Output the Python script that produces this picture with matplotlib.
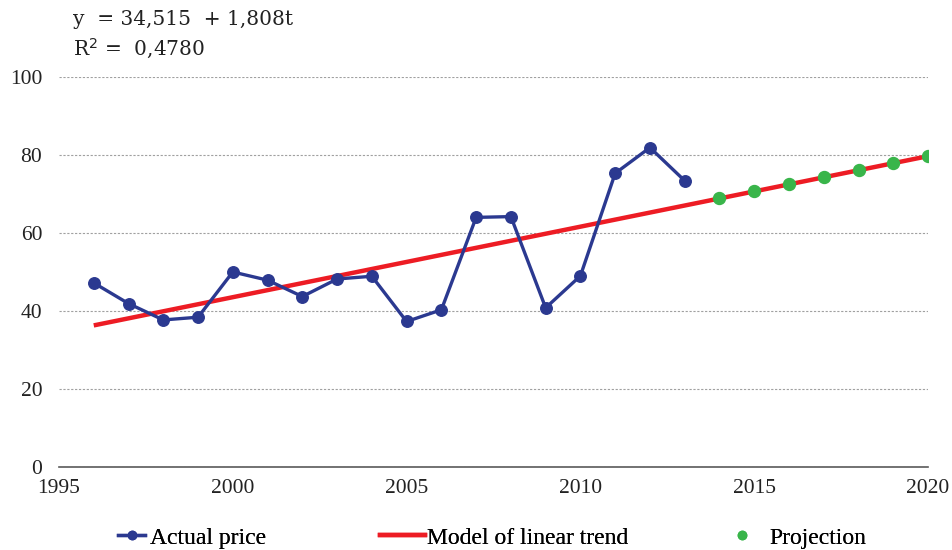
import matplotlib.pyplot as plt
from matplotlib.lines import Line2D

# Data
years_actual = [1996, 1997, 1998, 1999, 2000, 2001, 2002, 2003, 2004,
                2005, 2006, 2007, 2008, 2009, 2010, 2011, 2012, 2013]
price_actual = [47.2, 41.9, 37.7, 38.4, 50.0, 47.9, 43.7, 48.2, 48.9,
                37.3, 40.3, 64.0, 64.2, 40.8, 49.0, 75.3, 81.9, 73.4]

trend_years = [1996, 2020]
trend_values = [36.3, 79.7]

years_proj = [2014, 2015, 2016, 2017, 2018, 2019, 2020]
price_proj = [68.9, 70.7, 72.5, 74.3, 76.1, 77.9, 79.7]

x_ticks = [1995, 2000, 2005, 2010, 2015, 2020]
y_ticks = [0, 20, 40, 60, 80, 100]

BLUE = '#2b3990'
RED = '#ed1c24'
GREEN = '#39b54a'

plt.rcParams['font.family'] = ['Liberation Serif', 'DejaVu Serif']

fig = plt.figure(figsize=(9.53, 5.5), dpi=100)
ax = fig.add_axes([0.0619, 0.151, 0.9119, 0.709])

ax.plot(trend_years, trend_values, color=RED, linewidth=3.2, zorder=2,
        solid_capstyle='butt')
ax.plot(years_actual, price_actual, color=BLUE, linewidth=2.4, marker='o',
        markersize=8.3, zorder=3)
ax.plot(years_proj, price_proj, linestyle='none', marker='o', color=GREEN,
        markersize=8.6, zorder=4)

ax.set_xlim(1995, 2020)
ax.set_ylim(0, 100)
ax.set_xticks(x_ticks)
ax.set_yticks(y_ticks)
ax.tick_params(axis='both', length=0, labelsize=15.5, colors='#222222')
ax.tick_params(axis='x', pad=9)
ax.tick_params(axis='y', pad=12)

ax.grid(axis='y', color='#a0a0a0', linestyle=(0, (2, 1.5)), linewidth=0.8)
ax.set_axisbelow(True)
for side in ['left', 'right', 'top']:
    ax.spines[side].set_visible(False)
ax.spines['bottom'].set_color('#5a5a5a')
ax.spines['bottom'].set_linewidth(1.2)

# regression equation
fig.text(0.0766, 0.965, 'y  = 34,515  + 1,808t', fontsize=14.5,
         family=['DejaVu Serif'], va='center', color='#222222')
fig.text(0.0766, 0.911, r'R$^2$ =  0,4780', fontsize=14.5,
         family=['DejaVu Serif'], va='center', color='#222222')

# legend along the bottom, one entry per anchor
entries = [
    (Line2D([0], [0], color=BLUE, linewidth=2.4, marker='o', markersize=6),
     'Actual price', 118, 1.15, 0.2),
    (Line2D([0], [0], color=RED, linewidth=3.2),
     'Model of linear trend', 380, 1.9, 0.1),
    (Line2D([0], [0], linestyle='none', marker='o', color=GREEN, markersize=6),
     'Projection', 730, 1.0, 0.65),
]
for handle, label, x_px, hlen, hpad in entries:
    leg = fig.legend([handle], [label], loc='center left',
                     bbox_to_anchor=(x_px / 953, 0.022), frameon=False,
                     fontsize=17, handlelength=hlen, handletextpad=hpad,
                     borderpad=0, borderaxespad=0)
    fig.add_artist(leg)

plt.savefig('out.png', dpi=100)
